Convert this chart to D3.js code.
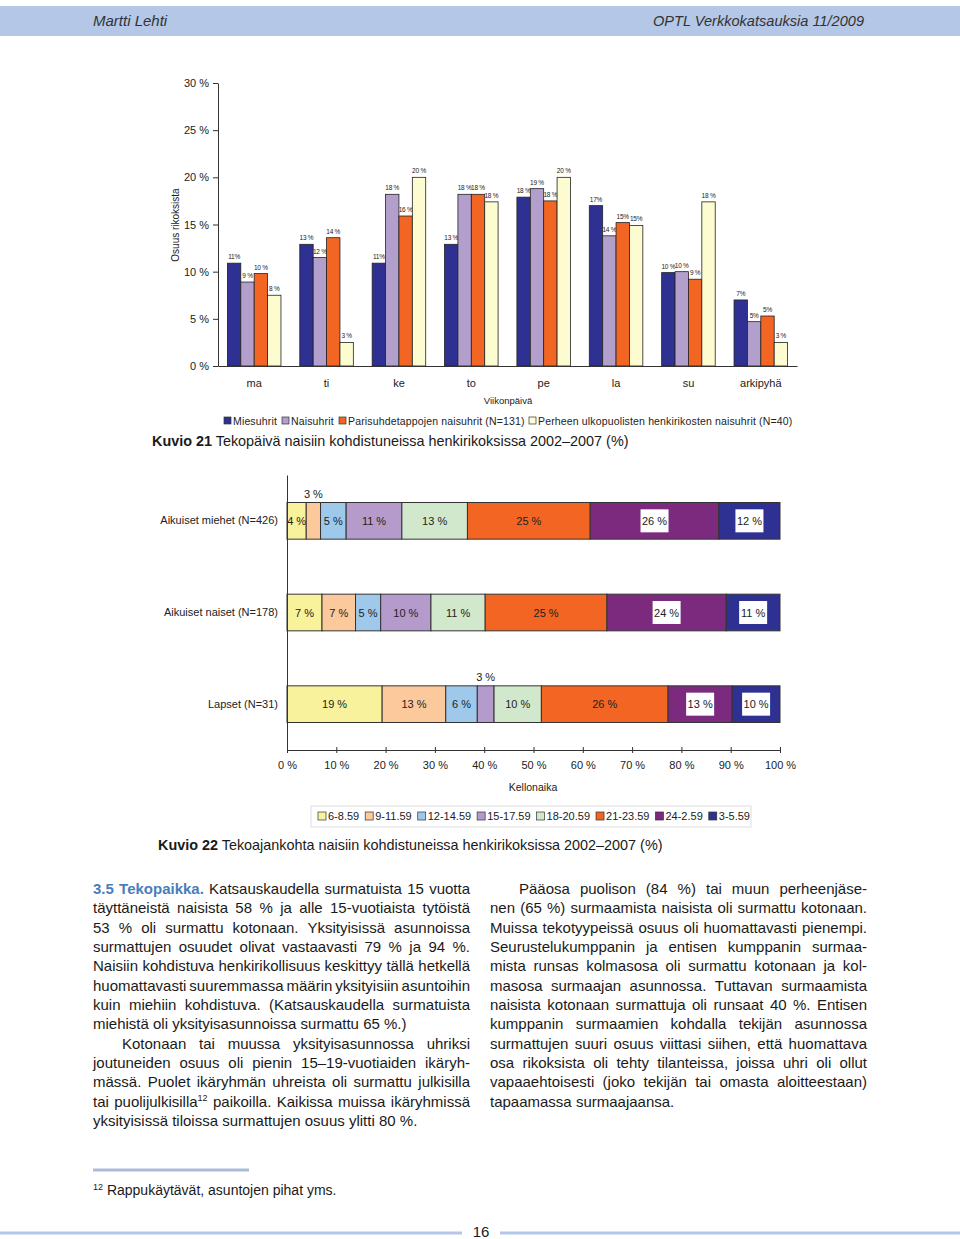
<!DOCTYPE html>
<html><head><meta charset="utf-8">
<script src="https://cdn.jsdelivr.net/npm/d3@7"></script>
<style>
body{margin:0;background:#fff;}
svg{display:block;font-family:"Liberation Sans",Arial,sans-serif;}
</style></head><body>
<svg id="page" width="960" height="1239"></svg>
<script>
// ---------- Chart 1 data ----------
const days = ["ma","ti","ke","to","pe","la","su","arkipyhä"];
const seriesNames = ["Miesuhrit","Naisuhrit","Parisuhdetappojen naisuhrit (N=131)","Perheen ulkopuolisten henkirikosten naisuhrit (N=40)"];
const miesuhrit = [10.9,12.9,10.9,12.9,17.9,17.0,9.9,7.0];
const naisuhrit = [8.9,11.5,18.2,18.2,18.8,13.8,10.0,4.7];
const parisuhde = [9.8,13.6,15.9,18.2,17.5,15.2,9.2,5.3];
const perheUlk  = [7.5,2.5,20.0,17.4,20.0,14.9,17.4,2.5];
const miesLabels   = ["11%","13 %","11%","13 %","18 %","17%","10 %","7%"];
const naisLabels   = ["9 %","12 %","18 %","18 %","19 %","14 %","10 %","5%"];
const pariLabels   = ["10 %","14 %","16 %","18 %","18 %","15%","9 %","5%"];
const perheLabels  = ["8 %","3 %","20 %","18 %","20 %","15%","18 %","3 %"];
const yTicks1 = [0,5,10,15,20,25,30];

// ---------- Chart 2 data ----------
const timeSlots = ["6-8.59","9-11.59","12-14.59","15-17.59","18-20.59","21-23.59","24-2.59","3-5.59"];
const groups = ["Aikuiset miehet (N=426)","Aikuiset naiset (N=178)","Lapset (N=31)"];
const miehet = [3.9,2.9,5.2,11.3,13.3,24.9,26.1,12.4];
const naiset = [7.1,6.8,5.1,10.2,11.0,24.7,24.2,10.9];
const lapset = [19.3,12.9,6.4,3.4,9.6,25.7,13.0,9.7];
const xTicks2 = [0,10,20,30,40,50,60,70,80,90,100];

// ---------- Text ----------
const leftLines = [
 "#3.5 #Tekopaikka. Katsauskaudella surmatuista 15 vuotta",
 "täyttäneistä naisista 58 % ja alle 15-vuotiaista tytöistä",
 "53 % oli surmattu kotonaan. Yksityisissä asunnoissa",
 "surmattujen osuudet olivat vastaavasti 79 % ja 94 %.",
 "Naisiin kohdistuva henkirikollisuus keskittyy tällä hetkellä",
 "huomattavasti suuremmassa määrin yksityisiin asuntoihin",
 "kuin miehiin kohdistuva. (Katsauskaudella surmatuista",
 "miehistä oli yksityisasunnoissa surmattu 65 %.)",
 "Kotonaan tai muussa yksityisasunnossa uhriksi",
 "joutuneiden osuus oli pienin 15–19-vuotiaiden ikäryh-",
 "mässä. Puolet ikäryhmän uhreista oli surmattu julkisilla",
 "tai puolijulkisilla^12 paikoilla. Kaikissa muissa ikäryhmissä",
 "yksityisissä tiloissa surmattujen osuus ylitti 80 %."
];
const rightLines = [
 "Pääosa puolison (84 %) tai muun perheenjäse-",
 "nen (65 %) surmaamista naisista oli surmattu kotonaan.",
 "Muissa tekotyypeissä osuus oli huomattavasti pienempi.",
 "Seurustelukumppanin ja entisen kumppanin surmaa-",
 "mista runsas kolmasosa oli surmattu kotonaan ja kol-",
 "masosa surmaajan asunnossa. Tuttavan surmaamista",
 "naisista kotonaan surmattuja oli runsaat 40 %. Entisen",
 "kumppanin surmaamien kohdalla tekijän asunnossa",
 "surmattujen suuri osuus viittasi siihen, että huomattava",
 "osa rikoksista oli tehty tilanteissa, joissa uhri oli ollut",
 "vapaaehtoisesti (joko tekijän tai omasta aloitteestaan)",
 "tapaamassa surmaajaansa."
];
const leftIndent = [0,0,0,0,0,0,0,0,1,0,0,0,0];
const leftLast   = [0,0,0,0,0,0,0,1,0,0,0,0,1];
const rightIndent= [1,0,0,0,0,0,0,0,0,0,0,0];
const rightLast  = [0,0,0,0,0,0,0,0,0,0,0,1];

const svg = d3.select("#page");
const txtCol = "#1a1a1a";

// ---------- Header ----------
svg.append("rect").attr("x",0).attr("y",6).attr("width",960).attr("height",30).attr("fill","#b4c7e7");
svg.append("text").attr("x",93).attr("y",26).attr("font-size",15).attr("font-style","italic").attr("fill","#333").text("Martti Lehti");
svg.append("text").attr("x",864).attr("y",26).attr("font-size",15).attr("font-style","italic").attr("fill","#333").attr("text-anchor","end").attr("textLength",211).attr("lengthAdjust","spacingAndGlyphs").text("OPTL Verkkokatsauksia 11/2009");

// ---------- Chart 1 ----------
const c1 = svg.append("g");
const x0 = d3.scaleBand().domain(days).range([218,797]).paddingInner(0.26).paddingOuter(0.13);
const x1 = d3.scaleBand().domain([0,1,2,3]).range([0,x0.bandwidth()]);
const y1 = d3.scaleLinear().domain([0,30]).range([366,83]);
const colors1 = ["#2e3192","#b39fcc","#f26522","#fdfbd0"];
const series1 = [miesuhrit,naisuhrit,parisuhde,perheUlk];
const labels1 = [miesLabels,naisLabels,pariLabels,perheLabels];

const yAx = c1.append("g").attr("transform","translate(218,0)")
  .call(d3.axisLeft(y1).tickValues(yTicks1).tickFormat(d=>d+" %").tickSize(5).tickSizeOuter(0).tickPadding(4));
yAx.selectAll("text").attr("font-size",11).attr("fill","#222").attr("font-family","Liberation Sans, Arial, sans-serif");
yAx.selectAll("line,path").attr("stroke","#333");

days.forEach((d,i)=>{
  series1.forEach((s,k)=>{
    const bx = x0(d)+x1(k);
    c1.append("rect").attr("x",bx).attr("y",y1(s[i])).attr("width",x1.bandwidth()).attr("height",y1(0)-y1(s[i]))
      .attr("fill",colors1[k]).attr("stroke","#222").attr("stroke-width",0.8);
    c1.append("text").attr("x",bx+x1.bandwidth()/2).attr("y",y1(s[i])-4).attr("text-anchor","middle")
      .attr("font-size",6.5).attr("letter-spacing",-0.25).attr("fill","#222").text(labels1[k][i]);
  });
});
const xAx = c1.append("g").attr("transform","translate(0,366)")
  .call(d3.axisBottom(x0).tickSize(0).tickSizeOuter(0).tickPadding(13));
xAx.selectAll("text").attr("font-size",11).attr("fill","#222").attr("font-family","Liberation Sans, Arial, sans-serif");
xAx.select("path").attr("stroke","#333");

c1.append("text").attr("transform","translate(179,225) rotate(-90)").attr("text-anchor","middle").attr("font-size",10).attr("fill","#222").text("Osuus rikoksista");
c1.append("text").attr("x",508).attr("y",404).attr("text-anchor","middle").attr("font-size",9.5).attr("fill","#222").text("Viikonpäivä");

const leg1x = [224,282,339,529];
seriesNames.forEach((n,k)=>{
  c1.append("rect").attr("x",leg1x[k]).attr("y",417).attr("width",7).attr("height",7).attr("fill",colors1[k]).attr("stroke","#333").attr("stroke-width",0.7);
  c1.append("text").attr("x",leg1x[k]+9).attr("y",424.5).attr("font-size",10.5).attr("letter-spacing",0.15).attr("fill","#222").text(n);
});
const cap1 = svg.append("text").attr("x",152).attr("y",446).attr("font-size",14.4).attr("fill",txtCol);
cap1.append("tspan").attr("font-weight","bold").text("Kuvio 21");
cap1.append("tspan").text(" Tekopäivä naisiin kohdistuneissa henkirikoksissa 2002–2007 (%)");

// ---------- Chart 2 ----------
const c2 = svg.append("g");
const x2 = d3.scaleLinear().domain([0,100]).range([287,780]);
const y2 = d3.scaleBand().domain(groups).range([475,750]).paddingInner(0.6).paddingOuter(0.3);
const colors2 = ["#f8f29c","#fbc99c","#9ec9eb","#b49bcc","#d2e8cc","#f26522","#7b2a7e","#2e3192"];
const rows = [miehet,naiset,lapset];

rows.forEach((vals,r)=>{
  let acc = 0;
  const yy = y2(groups[r]), h = y2.bandwidth();
  vals.forEach((v,j)=>{
    const xa = x2(acc), xb = x2(acc+v);
    c2.append("rect").attr("x",xa).attr("y",yy).attr("width",xb-xa).attr("height",h)
      .attr("fill",colors2[j]).attr("stroke","#333").attr("stroke-width",1);
    const cx = (xa+xb)/2, lab = Math.round(v)+" %";
    if (v < 3.5) {
      c2.append("text").attr("x",cx).attr("y",yy-5).attr("text-anchor","middle").attr("font-size",11).attr("fill","#222").text(lab);
    } else {
      if (j >= 6) {
        c2.append("rect").attr("x",cx-14).attr("y",yy+h/2-11.5).attr("width",28).attr("height",23).attr("fill","#fff");
      }
      c2.append("text").attr("x",cx).attr("y",yy+h/2+4).attr("text-anchor","middle").attr("font-size",11).attr("fill","#222").text(lab);
    }
    acc += v;
  });
});
const yAx2 = c2.append("g").attr("transform","translate(287,0)")
  .call(d3.axisLeft(y2).tickSize(0).tickSizeOuter(0).tickPadding(9));
yAx2.selectAll("text").attr("font-size",11).attr("fill","#222").attr("font-family","Liberation Sans, Arial, sans-serif");
yAx2.select("path").attr("stroke","#333");
const xAx2 = c2.append("g").attr("transform","translate(0,750)")
  .call(d3.axisBottom(x2).tickValues(xTicks2).tickFormat(d=>d+" %").tickSize(3).tickSizeOuter(0).tickPadding(8));
xAx2.selectAll(".tick line").attr("y1",-3).attr("y2",3);
xAx2.selectAll("text").attr("font-size",11).attr("fill","#222").attr("font-family","Liberation Sans, Arial, sans-serif");
xAx2.selectAll("line,path").attr("stroke","#333");
c2.append("text").attr("x",533).attr("y",791).attr("text-anchor","middle").attr("font-size",10.5).attr("fill","#222").text("Kellonaika");

c2.append("rect").attr("x",311).attr("y",806).attr("width",440).attr("height",21).attr("fill","none").attr("stroke","#ddd").attr("stroke-width",1);
let lx = 318;
timeSlots.forEach((t,j)=>{
  c2.append("rect").attr("x",lx).attr("y",812).attr("width",8).attr("height",8).attr("fill",colors2[j]).attr("stroke","#333").attr("stroke-width",0.7);
  const tt = c2.append("text").attr("x",lx+10).attr("y",820).attr("font-size",11).attr("fill","#222").text(t);
  lx += 10 + tt.node().getComputedTextLength() + 6;
});
const cap2 = svg.append("text").attr("x",158).attr("y",850).attr("font-size",14.4).attr("fill",txtCol);
cap2.append("tspan").attr("font-weight","bold").text("Kuvio 22");
cap2.append("tspan").text(" Tekoajankohta naisiin kohdistuneissa henkirikoksissa 2002–2007 (%)");

// ---------- Body text ----------
const FS = 15;
function drawLine(x0, y, width, text, justify, indent){
  const g = svg.append("g");
  const words = text.split(" ");
  const nodes = words.map(w=>{
    const t = g.append("text").attr("y",y).attr("font-size",FS).attr("fill",txtCol);
    let word = w;
    if (word.startsWith("#")) { word = word.slice(1); t.attr("font-weight","bold").attr("fill","#4a7ebb"); }
    const m = word.split("^");
    t.append("tspan").text(m[0]);
    if (m[1]) t.append("tspan").attr("font-size",9).attr("dy",-6).text(m[1]);
    return t;
  });
  const widths = nodes.map(n=>n.node().getComputedTextLength());
  const total = d3.sum(widths);
  const avail = width - indent;
  const gap = (justify && words.length>1) ? (avail-total)/(words.length-1) : FS*0.278;
  let x = x0 + indent;
  nodes.forEach((n,i)=>{ n.attr("x",x); x += widths[i] + gap; });
}
const base = 894, lh = 19.33;
leftLines.forEach((l,i)=>drawLine(93, base+i*lh, 377, l, !leftLast[i], leftIndent[i]?29:0));
rightLines.forEach((l,i)=>drawLine(490, base+i*lh, 377, l, !rightLast[i], rightIndent[i]?29:0));

// ---------- Footnote & footer ----------
svg.append("rect").attr("x",93).attr("y",1168.5).attr("width",156).attr("height",3).attr("fill","#a9bddb");
const fn = svg.append("text").attr("x",93).attr("y",1195).attr("font-size",14).attr("fill",txtCol);
fn.append("tspan").attr("font-size",9).attr("dy",-5).text("12");
fn.append("tspan").attr("dy",5).text(" Rappukäytävät, asuntojen pihat yms.");
svg.append("rect").attr("x",0).attr("y",1231.5).attr("width",462).attr("height",3).attr("fill","#b4c7e7");
svg.append("rect").attr("x",500).attr("y",1231.5).attr("width",460).attr("height",3).attr("fill","#b4c7e7");
svg.append("text").attr("x",481).attr("y",1237).attr("text-anchor","middle").attr("font-size",15).attr("fill",txtCol).text("16");
</script>
</body></html>
